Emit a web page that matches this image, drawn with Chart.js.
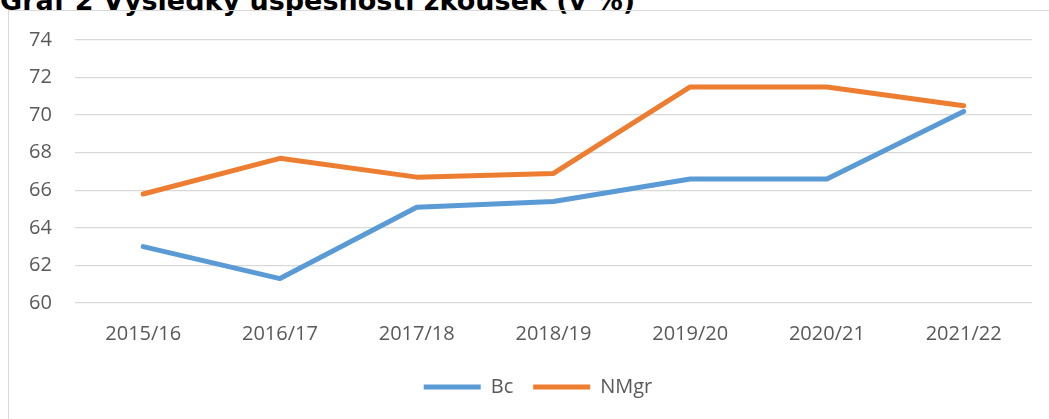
<!DOCTYPE html>
<html>
<head>
<meta charset="utf-8">
<script src="https://cdn.jsdelivr.net/npm/chart.js@4"></script>
<style>
  html, body { margin: 0; padding: 0; background: #fff; overflow: hidden; }
  #title {
    position: absolute; left: 0; top: -15px; white-space: nowrap;
    font-family: "DejaVu Sans", sans-serif; font-weight: bold; font-size: 27px; color: #000;
  }
  #frame {
    position: absolute; left: 8px; top: 10px; width: 1100px; height: 500px;
    border: 1px solid #d9d9d9;
  }
  #wrap { position: absolute; left: 0; top: 0; width: 1070px; height: 419px; }
</style>
</head>
<body>
<div id="title">Graf 2 Výsledky úspěšnosti zkoušek (v %)</div>
<div id="frame"></div>
<div id="wrap"><canvas id="line-Chart"></canvas></div>
<script>
// chart data
const years = ['2015/16', '2016/17', '2017/18', '2018/19', '2019/20', '2020/21', '2021/22'];
const bcValues = [63.0, 61.3, 65.1, 65.4, 66.6, 66.6, 70.2];
const nmgrValues = [65.8, 67.7, 66.7, 66.9, 71.5, 71.5, 70.5];
const yMin = 60;
const yMax = 74;
const yStep = 2;

document.addEventListener('DOMContentLoaded', function(){
    const ctx = document.getElementById('line-Chart').getContext('2d');
    const labelColor = '#595959';
    const gridColor = '#d9d9d9';

    Chart.defaults.font.family = '"Open Sans", sans-serif';
    Chart.defaults.font.size = 20;

    new Chart(ctx, {
        type: 'line',
        data: {
            labels: years,
            datasets: [{
                label: 'Bc',
                data: bcValues,
                borderColor: '#5b9bd5',
                backgroundColor: '#5b9bd5',
                borderWidth: 5,
                borderCapStyle: 'round',
                borderJoinStyle: 'round',
                pointRadius: 0,
                tension: 0
            }, {
                label: 'NMgr',
                data: nmgrValues,
                borderColor: '#ed7d31',
                backgroundColor: '#ed7d31',
                borderWidth: 5,
                borderCapStyle: 'round',
                borderJoinStyle: 'round',
                pointRadius: 0,
                tension: 0
            }]
        },
        options: {
            responsive: true,
            maintainAspectRatio: false,
            animation: false,
            layout: { padding: { left: 6, top: 40, right: 0, bottom: 12 } },
            plugins: {
                tooltip: { enabled: false },
                legend: {
                    position: 'bottom',
                    labels: {
                        color: labelColor,
                        usePointStyle: true,
                        pointStyle: 'line',
                        pointStyleWidth: 57,
                        padding: 20
                    }
                }
            },
            scales: {
                x: {
                    offset: true,
                    grid: { display: false },
                    border: { display: false },
                    ticks: { color: labelColor, padding: 11, maxRotation: 0 },
                    afterFit: function(scale) { scale.height = 54; }
                },
                y: {
                    min: yMin,
                    max: yMax,
                    grid: { color: gridColor, lineWidth: 1.3, drawTicks: false },
                    border: { display: false },
                    ticks: { stepSize: yStep, color: labelColor, padding: 23 }
                },
                y2: {
                    position: 'right',
                    display: true,
                    grid: { display: false },
                    border: { display: false },
                    ticks: { display: false },
                    afterFit: function(scale) { scale.width = 38; }
                }
            }
        }
    });
});
</script>
</body>
</html>
